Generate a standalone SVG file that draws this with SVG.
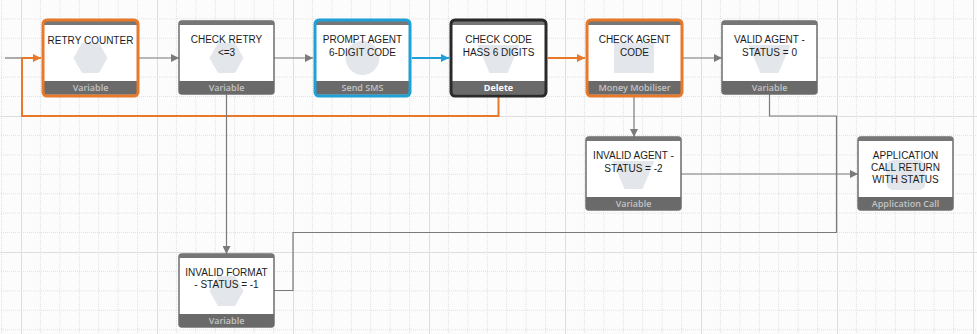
<svg xmlns="http://www.w3.org/2000/svg" width="977" height="334" viewBox="0 0 977 334">
  <defs>
    <pattern id="grid" patternUnits="userSpaceOnUse" x="21" y="-20" width="136" height="136">
      <g class="minor">
        <line x1="19.43" y1="0" x2="19.43" y2="136"/>
        <line x1="38.86" y1="0" x2="38.86" y2="136"/>
        <line x1="58.29" y1="0" x2="58.29" y2="136"/>
        <line x1="77.71" y1="0" x2="77.71" y2="136"/>
        <line x1="97.14" y1="0" x2="97.14" y2="136"/>
        <line x1="116.57" y1="0" x2="116.57" y2="136"/>
        <line y1="19.43" x1="0" y2="19.43" x2="136"/>
        <line y1="38.86" x1="0" y2="38.86" x2="136"/>
        <line y1="58.29" x1="0" y2="58.29" x2="136"/>
        <line y1="77.71" x1="0" y2="77.71" x2="136"/>
        <line y1="97.14" x1="0" y2="97.14" x2="136"/>
        <line y1="116.57" x1="0" y2="116.57" x2="136"/>
      </g>
      <g class="major">
        <line x1="0.5" y1="0" x2="0.5" y2="136"/>
        <line x1="0" y1="0.5" x2="136" y2="0.5"/>
      </g>
    </pattern>
    <marker id="arrow-gray" viewBox="0 0 8 8" refX="8" refY="4" markerWidth="8" markerHeight="8" markerUnits="userSpaceOnUse" orient="auto">
      <path d="M0,0 L8,4 L0,8 Z" fill="#7a7a7a"/>
    </marker>
    <marker id="arrow-orange" viewBox="0 0 8 8" refX="8" refY="4" markerWidth="8" markerHeight="8" markerUnits="userSpaceOnUse" orient="auto">
      <path d="M0,0 L8,4 L0,8 Z" fill="#e8782a"/>
    </marker>
    <marker id="arrow-blue" viewBox="0 0 8 8" refX="8" refY="4" markerWidth="8" markerHeight="8" markerUnits="userSpaceOnUse" orient="auto">
      <path d="M0,0 L8,4 L0,8 Z" fill="#1fa0d8"/>
    </marker>
    <!-- node icon shapes, positioned around (0,0) -->
    <polygon id="icon-hex" points="-17,0 -8.5,-15 8.5,-15 17,0 8.5,15 -8.5,15"/>
    <polygon id="icon-trap" points="-21,-13 21,-13 9,15 -9,15"/>
  </defs>
  <style>
    .minor line { stroke: #d9d9d9; stroke-width: 0.8; stroke-dasharray: 1 1; }
    .major line { stroke: #dedede; stroke-width: 1; }
    .body { fill: #ffffff; stroke: #6e6e6e; stroke-width: 1.5; }
    .head { fill: #767676; }
    .foot { fill: #6a6a6a; }
    .icon { fill: #e3e6eb; }
    .label { font-family: "Liberation Sans", Arial, sans-serif; font-size: 10px; fill: #1c1c1c; text-anchor: middle; }
    .kind { font-family: "Open Sans", "Liberation Sans", sans-serif; font-size: 9px; font-weight: 600; fill: #c4c4c4; text-anchor: middle; }
    .kind.strong { fill: #ffffff; font-weight: 700; }
    .sel { fill: none; stroke-width: 3; }
    .sel.orange { stroke: #e8782a; }
    .sel.blue { stroke: #1fa0d8; }
    .sel.black { stroke: #2a2a2a; }
    .conn { fill: none; stroke: #7a7a7a; stroke-width: 1.2; }
    .conn.orange { stroke: #e8782a; stroke-width: 2; }
    .conn.blue { stroke: #1fa0d8; stroke-width: 1.8; }
  </style>

  <rect width="977" height="334" fill="#fcfcfc"/>
  <rect width="977" height="334" fill="url(#grid)"/>

  <g id="connectors">
    <path class="conn" d="M5,58 H22"/>
    <path class="conn orange" d="M498.5,96 V116 H22 V58 H41" marker-end="url(#arrow-orange)"/>
    <path class="conn" d="M139,58 H179" marker-end="url(#arrow-gray)"/>
    <path class="conn" d="M274,58 H313" marker-end="url(#arrow-gray)"/>
    <path class="conn blue" d="M412,58 H449" marker-end="url(#arrow-blue)"/>
    <path class="conn orange" d="M548,58 H585" marker-end="url(#arrow-orange)"/>
    <path class="conn" d="M683,58 H722" marker-end="url(#arrow-gray)"/>
    <path class="conn" d="M226.5,94 V254" marker-end="url(#arrow-gray)"/>
    <path class="conn" d="M634,97 V137" marker-end="url(#arrow-gray)"/>
    <path class="conn" d="M681,174 H858" marker-end="url(#arrow-gray)"/>
    <path class="conn" d="M769.5,94 V116 H836.5 V174"/>
    <path class="conn" d="M274,290.5 H293 V232.5 H836.5 V174"/>
  </g>

  <g id="retry-counter" transform="translate(43,21)">
    <rect class="body" width="95" height="73" rx="3"/>
    <path class="head" d="M3,0 H92 A3,3 0 0 1 95,3 V4 H0 V3 A3,3 0 0 1 3,0 Z"/>
    <path class="foot" d="M0,60 H95 V70 A3,3 0 0 1 92,73 H3 A3,3 0 0 1 0,70 Z"/>
    <use href="#icon-hex" class="icon" x="47.5" y="37"/>
    <text class="label" x="47.5" y="22.5">RETRY COUNTER</text>
    <text class="kind" x="47.5" y="70">Variable</text>
    <rect class="sel orange" x="0" y="-1" width="95" height="76" rx="4"/>
  </g>

  <g id="check-retry" transform="translate(179,21)">
    <rect class="body" width="95" height="73" rx="3"/>
    <path class="head" d="M3,0 H92 A3,3 0 0 1 95,3 V4 H0 V3 A3,3 0 0 1 3,0 Z"/>
    <path class="foot" d="M0,60 H95 V70 A3,3 0 0 1 92,73 H3 A3,3 0 0 1 0,70 Z"/>
    <use href="#icon-hex" class="icon" x="47.5" y="37"/>
    <text class="label" x="47.5" y="22">CHECK RETRY</text>
    <text class="label" x="47.5" y="34.5">&lt;=3</text>
    <text class="kind" x="47.5" y="70">Variable</text>
  </g>

  <g id="prompt-agent" transform="translate(315,21)">
    <rect class="body" width="95" height="73" rx="3"/>
    <path class="head" d="M3,0 H92 A3,3 0 0 1 95,3 V4 H0 V3 A3,3 0 0 1 3,0 Z"/>
    <path class="foot" d="M0,60 H95 V70 A3,3 0 0 1 92,73 H3 A3,3 0 0 1 0,70 Z"/>
    <circle class="icon" cx="47.5" cy="37" r="17"/>
    <text class="label" x="47.5" y="22">PROMPT AGENT</text>
    <text class="label" x="47.5" y="34.5">6-DIGIT CODE</text>
    <text class="kind" x="47.5" y="70">Send SMS</text>
    <rect class="sel blue" x="0" y="-1" width="95" height="76" rx="4"/>
  </g>

  <g id="check-code" transform="translate(451,21)">
    <rect class="body" width="95" height="73" rx="3"/>
    <path class="head" d="M3,0 H92 A3,3 0 0 1 95,3 V4 H0 V3 A3,3 0 0 1 3,0 Z"/>
    <path class="foot" d="M0,60 H95 V70 A3,3 0 0 1 92,73 H3 A3,3 0 0 1 0,70 Z"/>
    <use href="#icon-trap" class="icon" x="47.5" y="37"/>
    <text class="label" x="47.5" y="22">CHECK CODE</text>
    <text class="label" x="47.5" y="34.5">HASS 6 DIGITS</text>
    <text class="kind strong" x="47.5" y="70">Delete</text>
    <rect class="sel black" x="0" y="-1" width="95" height="76" rx="4"/>
  </g>

  <g id="check-agent-code" transform="translate(587,21)">
    <rect class="body" width="95" height="73" rx="3"/>
    <path class="head" d="M3,0 H92 A3,3 0 0 1 95,3 V4 H0 V3 A3,3 0 0 1 3,0 Z"/>
    <path class="foot" d="M0,60 H95 V70 A3,3 0 0 1 92,73 H3 A3,3 0 0 1 0,70 Z"/>
    <rect class="icon" x="27" y="22" width="40" height="30"/>
    <text class="label" x="47.5" y="22">CHECK AGENT</text>
    <text class="label" x="47.5" y="34.5">CODE</text>
    <text class="kind" x="47.5" y="70">Money Mobiliser</text>
    <rect class="sel orange" x="0" y="-1" width="95" height="76" rx="4"/>
  </g>

  <g id="valid-agent" transform="translate(722,21)">
    <rect class="body" width="95" height="73" rx="3"/>
    <path class="head" d="M3,0 H92 A3,3 0 0 1 95,3 V4 H0 V3 A3,3 0 0 1 3,0 Z"/>
    <path class="foot" d="M0,60 H95 V70 A3,3 0 0 1 92,73 H3 A3,3 0 0 1 0,70 Z"/>
    <use href="#icon-trap" class="icon" x="47.5" y="37"/>
    <text class="label" x="47.5" y="22">VALID AGENT -</text>
    <text class="label" x="47.5" y="34.5">STATUS = 0</text>
    <text class="kind" x="47.5" y="70">Variable</text>
  </g>

  <g id="invalid-agent" transform="translate(586,137)">
    <rect class="body" width="95" height="73" rx="3"/>
    <path class="head" d="M3,0 H92 A3,3 0 0 1 95,3 V4 H0 V3 A3,3 0 0 1 3,0 Z"/>
    <path class="foot" d="M0,60 H95 V70 A3,3 0 0 1 92,73 H3 A3,3 0 0 1 0,70 Z"/>
    <use href="#icon-trap" class="icon" x="47.5" y="37"/>
    <text class="label" x="47.5" y="22">INVALID AGENT -</text>
    <text class="label" x="47.5" y="34.5">STATUS = -2</text>
    <text class="kind" x="47.5" y="70">Variable</text>
  </g>

  <g id="application-call" transform="translate(858,137)">
    <rect class="body" width="95" height="73" rx="3"/>
    <path class="head" d="M3,0 H92 A3,3 0 0 1 95,3 V4 H0 V3 A3,3 0 0 1 3,0 Z"/>
    <path class="foot" d="M0,60 H95 V70 A3,3 0 0 1 92,73 H3 A3,3 0 0 1 0,70 Z"/>
    <rect class="icon" x="28.5" y="23" width="39" height="30" rx="7"/>
    <text class="label" x="47.5" y="22">APPLICATION</text>
    <text class="label" x="47.5" y="34">CALL RETURN</text>
    <text class="label" x="47.5" y="46">WITH STATUS</text>
    <text class="kind" x="47.5" y="70">Application Call</text>
  </g>

  <g id="invalid-format" transform="translate(179,254)">
    <rect class="body" width="95" height="73" rx="3"/>
    <path class="head" d="M3,0 H92 A3,3 0 0 1 95,3 V4 H0 V3 A3,3 0 0 1 3,0 Z"/>
    <path class="foot" d="M0,60 H95 V70 A3,3 0 0 1 92,73 H3 A3,3 0 0 1 0,70 Z"/>
    <use href="#icon-hex" class="icon" x="47.5" y="37"/>
    <text class="label" x="47.5" y="22">INVALID FORMAT</text>
    <text class="label" x="47.5" y="34">- STATUS = -1</text>
    <text class="kind" x="47.5" y="70">Variable</text>
  </g>
</svg>
